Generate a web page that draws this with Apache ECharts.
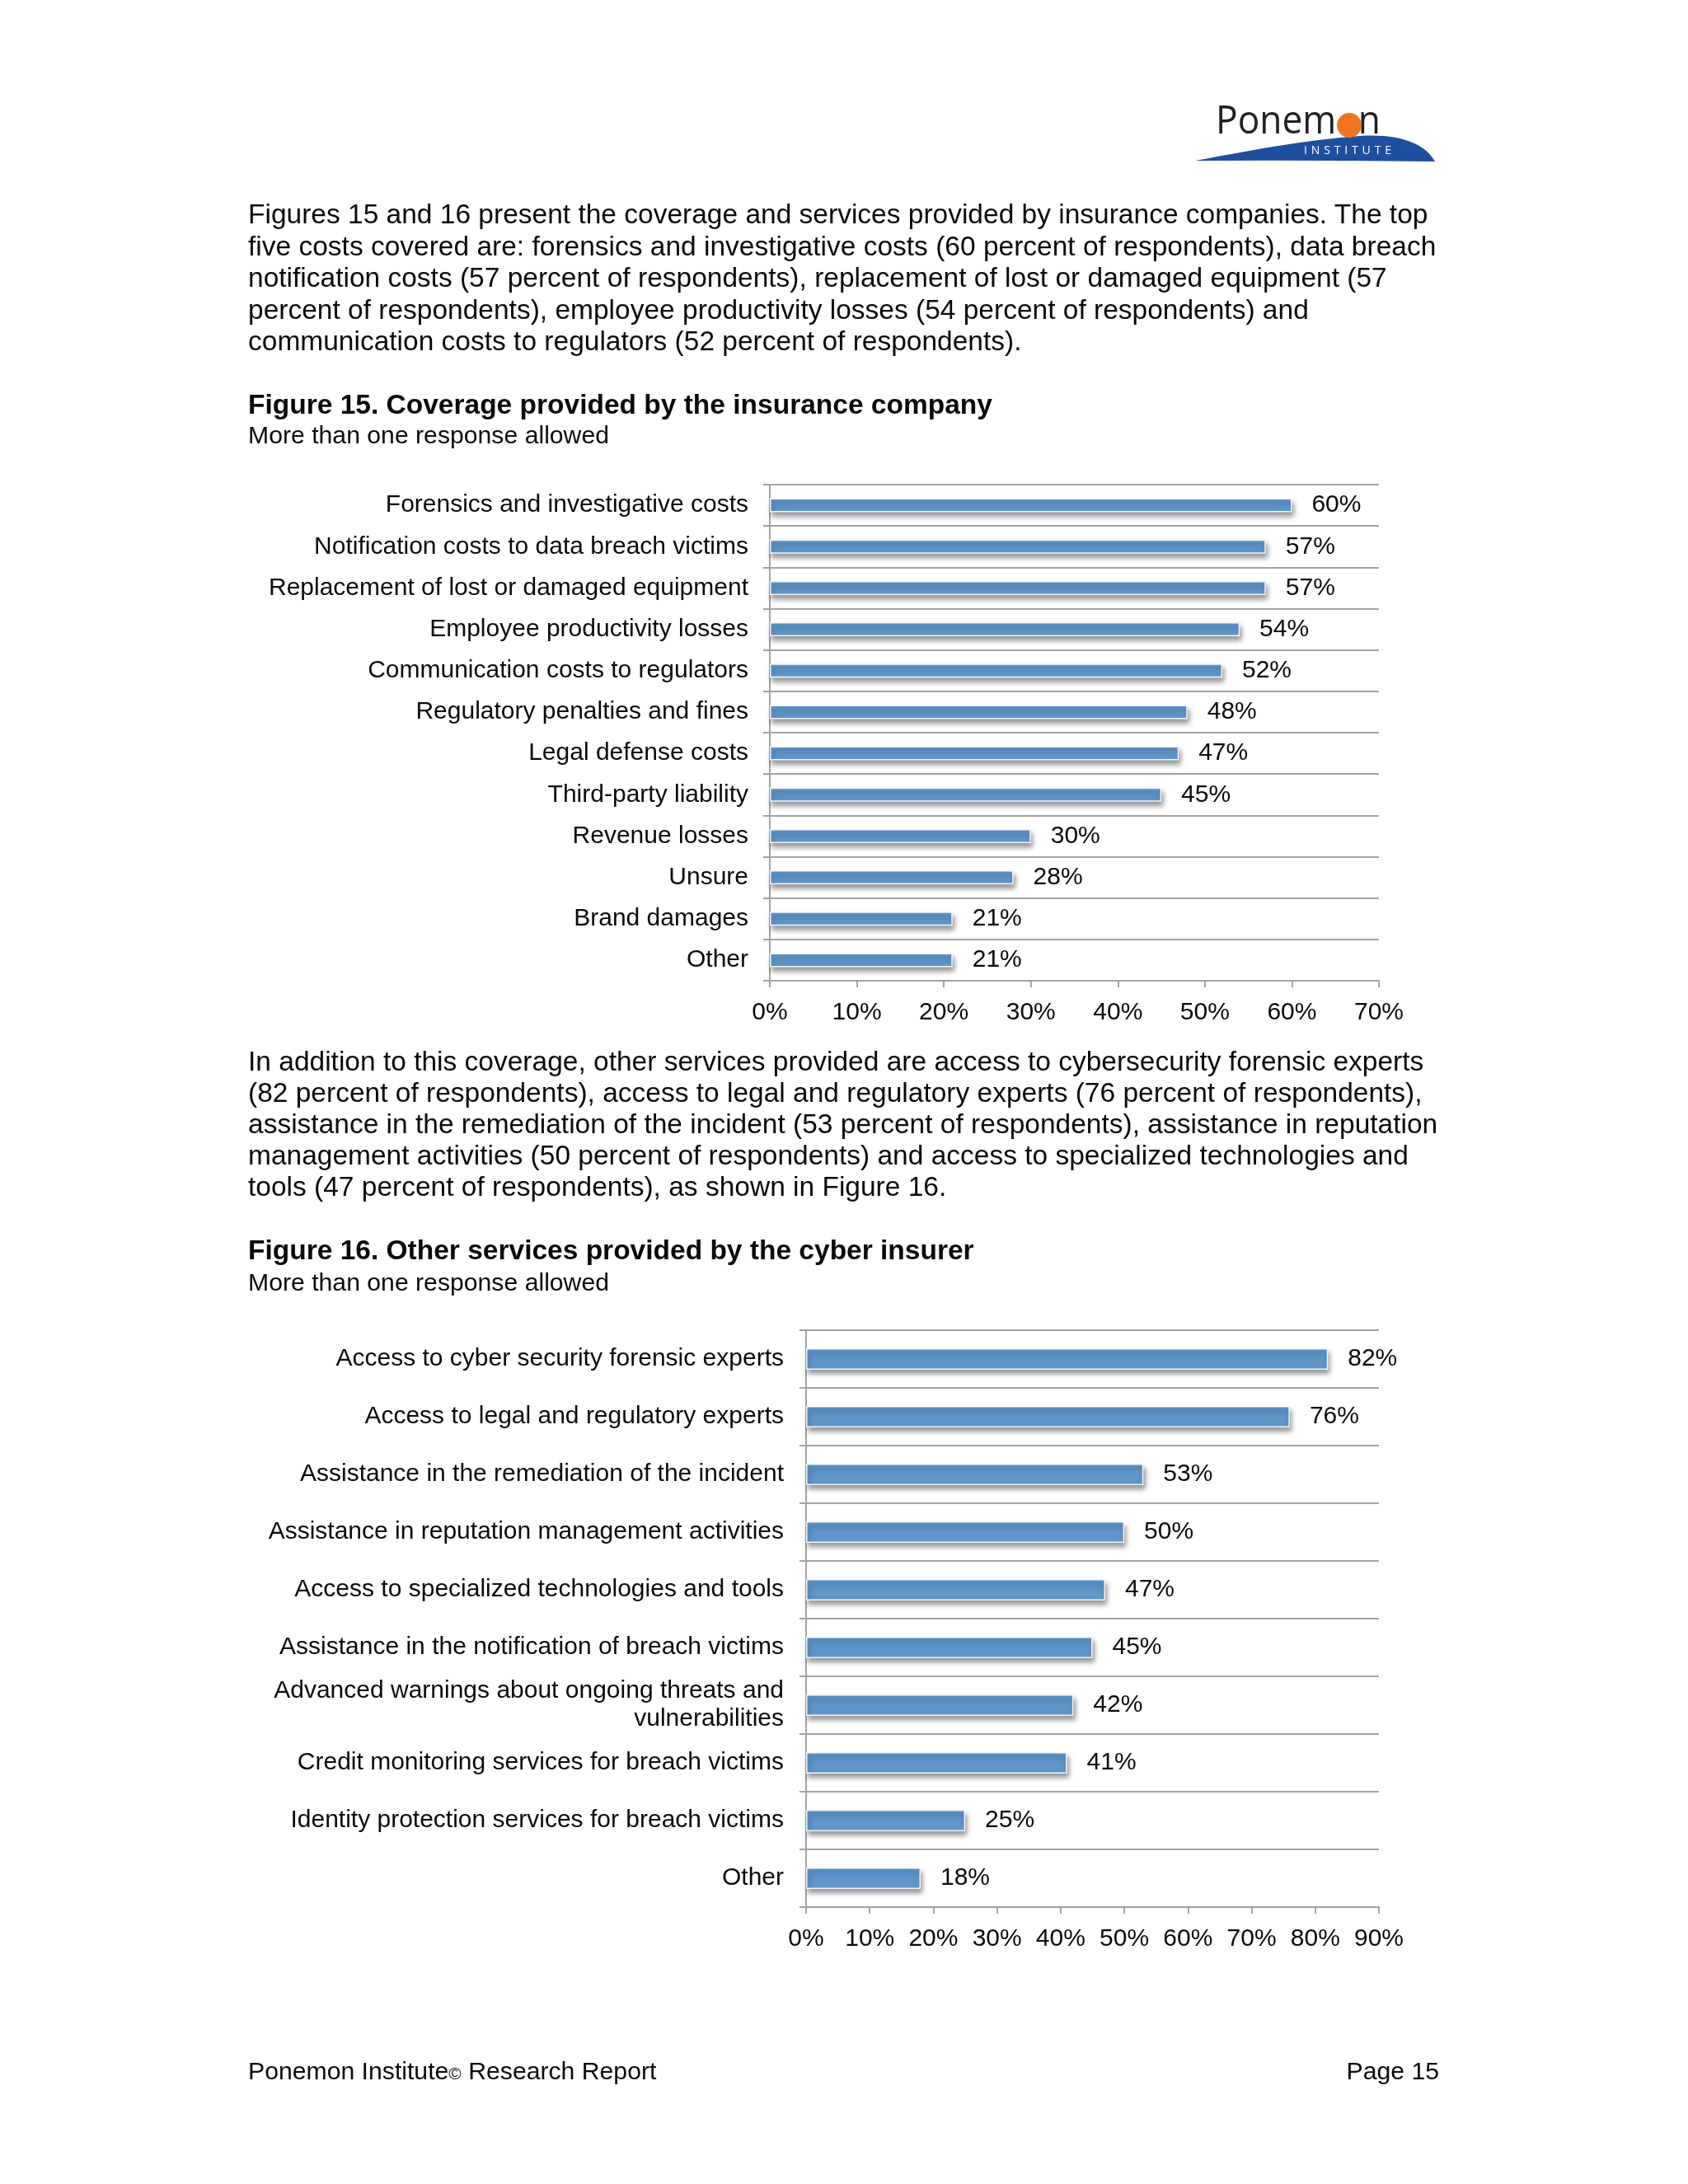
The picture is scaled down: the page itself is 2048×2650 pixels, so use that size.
<!DOCTYPE html>
<html>
<head>
<meta charset="utf-8">
<script src="https://cdn.jsdelivr.net/npm/echarts@6/dist/echarts.min.js"></script>
<style>
  html, body { margin: 0; padding: 0; background: #ffffff; }
  #page { position: relative; width: 2048px; height: 2650px; overflow: hidden; background: #fff; }
  #chart { position: absolute; left: 0; top: 0; width: 2048px; height: 2650px; }
  .t { position: absolute; left: 301px; white-space: nowrap; font-family: "Liberation Sans", Arial, Helvetica, sans-serif; color: #0a0a0a; font-size: 33.5px; line-height: 38px; }
  .b { font-weight: bold; }
  #logo { position: absolute; left: 1440px; top: 110px; width: 320px; height: 100px; }
</style>
</head>
<body>
<div id="page">
  <div id="chart"></div>
  <svg id="logo" viewBox="0 0 320 100" width="320" height="100">
    <path d="M10,85 C 70,74 140,60 210,55 C 262,52 290,66 301,86 Q 150,84 10,85 Z" fill="#1F4E9E"/>
    <text x="35" y="52" font-family="Open Sans, Noto Sans, sans-serif" font-size="48" fill="#231F20" textLength="200" lengthAdjust="spacingAndGlyphs">Ponem<tspan fill-opacity="0">o</tspan>n</text>
    <circle cx="197" cy="42" r="15" fill="#EE7623"/>
    <text x="142" y="77" font-family="Open Sans, Noto Sans, sans-serif" font-size="14" fill="#ffffff" textLength="106" lengthAdjust="spacing">INSTITUTE</text>
  </svg>
  <div id="texts"></div>
</div>
<script>
// ---------- Data ----------
const fig15Categories = [
  "Forensics and investigative costs",
  "Notification costs to data breach victims",
  "Replacement of lost or damaged equipment",
  "Employee productivity losses",
  "Communication costs to regulators",
  "Regulatory penalties and fines",
  "Legal defense costs",
  "Third-party liability",
  "Revenue losses",
  "Unsure",
  "Brand damages",
  "Other"
];
const fig15Values = [60, 57, 57, 54, 52, 48, 47, 45, 30, 28, 21, 21];
const fig15AxisMax = 70;

const fig16Categories = [
  "Access to cyber security forensic experts",
  "Access to legal and regulatory experts",
  "Assistance in the remediation of the incident",
  "Assistance in reputation management activities",
  "Access to specialized technologies and tools",
  "Assistance in the notification of breach victims",
  "Advanced warnings about ongoing threats and\nvulnerabilities",
  "Credit monitoring services for breach victims",
  "Identity protection services for breach victims",
  "Other"
];
const fig16Values = [82, 76, 53, 50, 47, 45, 42, 41, 25, 18];
const fig16AxisMax = 90;

const para1Lines = [
  "Figures 15 and 16 present the coverage and services provided by insurance companies. The top",
  "five costs covered are: forensics and investigative costs (60 percent of respondents), data breach",
  "notification costs (57 percent of respondents), replacement of lost or damaged equipment (57",
  "percent of respondents), employee productivity losses (54 percent of respondents) and",
  "communication costs to regulators (52 percent of respondents)."
];
const para2Lines = [
  "In addition to this coverage, other services provided are access to cybersecurity forensic experts",
  "(82 percent of respondents), access to legal and regulatory experts (76 percent of respondents),",
  "assistance in the remediation of the incident (53 percent of respondents), assistance in reputation",
  "management activities (50 percent of respondents) and access to specialized technologies and",
  "tools (47 percent of respondents), as shown in Figure 16."
];
const fig15Title = "Figure 15. Coverage provided by the insurance company";
const fig16Title = "Figure 16. Other services provided by the cyber insurer";
const subtitleText = "More than one response allowed";
const footerRight = "Page 15";

// ---------- Text layout ----------
const textsEl = document.getElementById('texts');
function addLine(txt, centerY, cls, extraStyle) {
  const d = document.createElement('div');
  d.className = 't ' + (cls || '');
  d.textContent = txt;
  d.style.top = (centerY - 19) + 'px';
  if (extraStyle) Object.assign(d.style, extraStyle);
  textsEl.appendChild(d);
  return d;
}
const p1Y = [260, 299, 337, 376, 414];
para1Lines.forEach((l, i) => addLine(l, p1Y[i]));
addLine(fig15Title, 491, 'b');
addLine(subtitleText, 528, '', {fontSize: '30.2px'});
const p2Y = [1288, 1326, 1364, 1402, 1440];
para2Lines.forEach((l, i) => addLine(l, p2Y[i]));
addLine(fig16Title, 1517, 'b');
addLine(subtitleText, 1556, '', {fontSize: '30.2px'});
const fl = addLine('', 2513, '', {fontSize: '30.2px'});
fl.innerHTML = 'Ponemon Institute<span style="font-size:21px">\u00A9</span> Research Report';
addLine(footerRight, 2513, '', {fontSize: '30.2px', left: 'auto', right: '302px'});

// ---------- Chart ----------
const FONT = '"Liberation Sans", Arial, Helvetica, sans-serif';
const GRID_COLOR = '#A3A3A3';
const BAR_COLOR = '#6096CA';
const TXT = '#0a0a0a';

function catAxis(gridIndex, data, margin) {
  return {
    type: 'category', gridIndex: gridIndex, data: data, inverse: true,
    axisLine: { show: true, lineStyle: { color: GRID_COLOR, width: 2 } },
    axisTick: { show: true, length: 8, lineStyle: { color: GRID_COLOR, width: 2 } },
    splitLine: { show: true, lineStyle: { color: GRID_COLOR, width: 2 } },
    axisLabel: { margin: margin, fontSize: 30, color: TXT, fontFamily: FONT, lineHeight: 34, align: 'right' }
  };
}
function valAxis(gridIndex, max) {
  return {
    type: 'value', gridIndex: gridIndex, min: 0, max: max, interval: 10,
    axisLine: { show: true, lineStyle: { color: GRID_COLOR, width: 2 } },
    axisTick: { show: true, length: 8, lineStyle: { color: GRID_COLOR, width: 2 } },
    splitLine: { show: false },
    axisLabel: { margin: 24, fontSize: 30, color: TXT, fontFamily: FONT, formatter: '{value}%' }
  };
}
function barSeries(idx, values, barWidth) {
  return {
    type: 'bar', xAxisIndex: idx, yAxisIndex: idx, data: values, barWidth: barWidth,
    itemStyle: {
      color: BAR_COLOR, borderColor: '#F2F6FB', borderWidth: 1.5,
      shadowColor: 'rgba(0,0,0,0.42)', shadowBlur: 6, shadowOffsetX: 2, shadowOffsetY: 5
    },
    label: { show: true, position: 'right', distance: 24, formatter: '{c}%', fontSize: 30, color: TXT, fontFamily: FONT },
    silent: true, animation: false
  };
}

const chart = echarts.init(document.getElementById('chart'), null, { renderer: 'canvas' });
chart.setOption({
  animation: false,
  grid: [
    { left: 934, top: 588, width: 739, height: 602, containLabel: false },
    { left: 978, top: 1614, width: 695, height: 700, containLabel: false }
  ],
  xAxis: [valAxis(0, fig15AxisMax), valAxis(1, fig16AxisMax)],
  yAxis: [catAxis(0, fig15Categories, 26), catAxis(1, fig16Categories, 27)],
  series: [barSeries(0, fig15Values, 17), barSeries(1, fig16Values, 26)]
});
</script>
</body>
</html>
